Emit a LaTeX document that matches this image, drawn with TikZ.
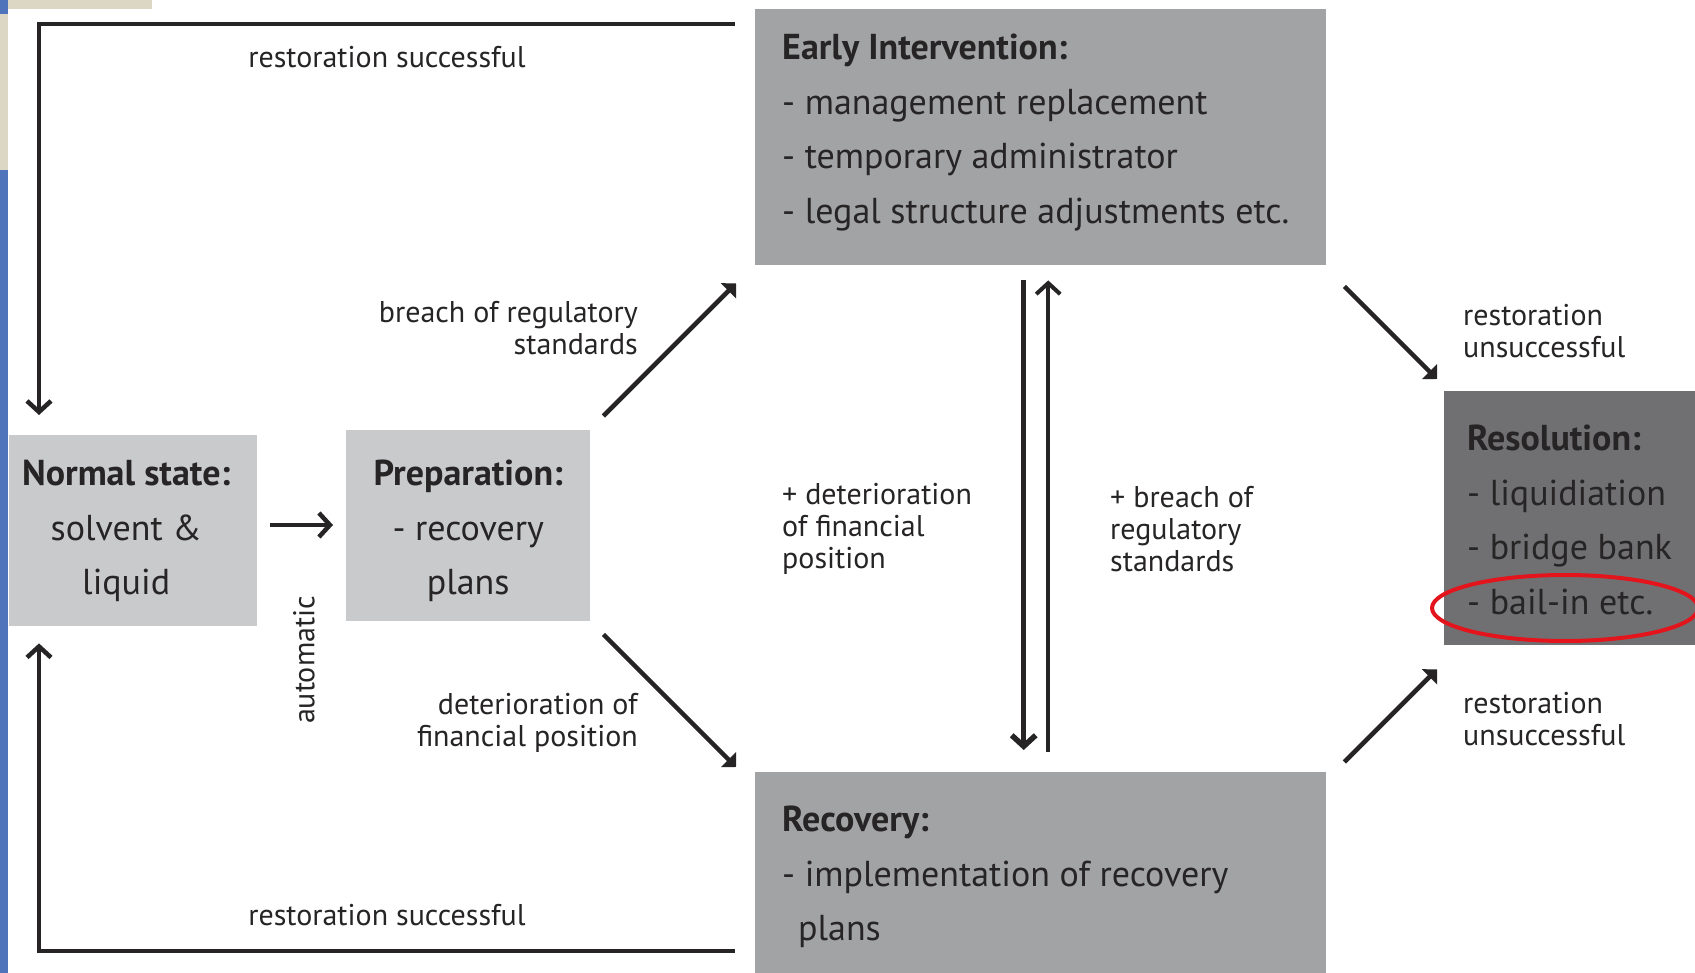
\documentclass[tikz,border=0pt]{standalone}
\usepackage{fontspec}
\setmainfont{PT Sans}
\usetikzlibrary{arrows.meta,calc}
\definecolor{txt}{HTML}{262424}
\definecolor{lightbox}{HTML}{C9CACC}
\definecolor{midbox}{HTML}{A2A3A5}
\definecolor{darkbox}{HTML}{707072}
\definecolor{slideblue}{HTML}{4F74BC}
\definecolor{slidebeige}{HTML}{DCD6C4}
\definecolor{ringred}{HTML}{E3141B}
\tikzset{
  box/.style={rectangle, draw=none, inner sep=0pt, anchor=north west},
  boxtext/.style={text=txt, inner sep=0pt, font=\fontsize{36}{54.5}\selectfont},
  lbl/.style={text=txt, inner sep=0pt, font=\fontsize{30}{32}\selectfont},
  conn/.style={draw=txt, line width=4.5pt},
  barb/.style={conn, -{Straight Barb[length=11pt,width=24pt]}},
  diag/.style={conn, -{Triangle[angle=90:15pt]}},
}
\begin{document}
\begin{tikzpicture}[x=1pt,y=-1pt]
\useasboundingbox (0,0) rectangle (1695,973);
\fill[white] (0,0) rectangle (1695,973);
% slide background remnants
\fill[slideblue] (0,0) rectangle (8,973);
\fill[slidebeige] (8,0) rectangle (152,9);
\fill[slidebeige] (0,14) rectangle (8,170);
% boxes
\node[box, fill=lightbox, minimum width=248pt, minimum height=191pt] (ns) at (9,435) {};
\node[box, fill=lightbox, minimum width=244pt, minimum height=191pt] (prep) at (346,430) {};
\node[box, fill=midbox, minimum width=571pt, minimum height=256pt] (ei) at (755,9) {};
\node[box, fill=midbox, minimum width=571pt, minimum height=201pt] (rec) at (755,772) {};
\node[box, fill=darkbox, minimum width=251pt, minimum height=254pt] (res) at (1444,391) {};
% box texts
\node[boxtext, align=center, anchor=north] (nst) at ([xshift=-7pt,yshift=-25pt]ns.north)
  {\textbf{Normal state:}\\solvent \&\\liquid};
\node[boxtext, align=center, anchor=north] (prept) at ([yshift=-30pt]prep.north)
  {\textbf{Preparation:}\\- recovery\\plans};
\node[boxtext, align=left, anchor=north west] (eit) at ([xshift=27pt,yshift=-25pt]ei.north west)
  {\textbf{Early Intervention:}\\- management replacement\\- temporary administrator\\- legal structure adjustments etc.};
\node[boxtext, align=left, anchor=north west] (rect) at ([xshift=27pt,yshift=-34pt]rec.north west)
  {\textbf{Recovery:}\\- implementation of recovery\\\hspace*{16pt}plans};
\node[boxtext, align=left, anchor=north west] (rest) at ([xshift=23pt,yshift=-34pt]res.north west)
  {\textbf{Resolution:}\\- liquidiation\\- bridge bank\\- bail-in etc.};
% red ring
\draw[ringred, line width=4pt] (1565,608) ellipse [x radius=133, y radius=33];
% coordinates for the outer loops
\coordinate (tl) at (39,24);
\coordinate (bl) at (39,951);
% connectors
\draw[barb] ([xshift=-20pt]ei.west |- tl) -- (tl) -- ([yshift=20pt]tl |- ns.north);
\draw[barb] ([xshift=-20pt]rec.west |- bl) -- (bl) -- ([yshift=-17pt]bl |- ns.south);
\draw[barb] ([xshift=13pt]ns.east |- 0,525) -- ([xshift=-13pt]prep.west |- 0,525);
\draw[diag] ([shift={(13,-14)}]prep.north east) -- ([shift={(-19,18)}]ei.south west);
\draw[diag] ([shift={(13,13)}]prep.south east) -- ([shift={(-19,-5)}]rec.north west);
\draw[diag] ([shift={(18,21)}]ei.south east) -- ([shift={(-7,-12)}]res.north west);
\draw[diag] ([shift={(18,-10)}]rec.north east) -- ([shift={(-7,24)}]res.south west);
\draw[barb, line width=5.5pt] ([shift={(-17,15)}]ei.south) -- ([shift={(-17,-22)}]rec.north);
\draw[barb, line width=4pt] ([shift={(7.5,-20)}]rec.north) -- ([shift={(7.5,15)}]ei.south);
% labels
\node[lbl, anchor=center] (rs1) at (387,57) {restoration successful};
\node[lbl, anchor=center] (rs2) at (387,915) {restoration successful};
\node[lbl, align=right, anchor=east] (brs) at (638,328) {breach of regulatory\\standards};
\node[lbl, align=right, anchor=east] (dfp) at (638,723) {deterioration of\\financial position};
\node[lbl, align=left, anchor=west] (pdf) at (782,529) {+ deterioration\\of financial\\position};
\node[lbl, align=left, anchor=west] (pbr) at (1110,529) {+ breach of\\regulatory\\standards};
\node[lbl, align=left, anchor=west] (ru1) at (1463,331) {restoration\\unsuccessful};
\node[lbl, align=left, anchor=west] (ru2) at (1463,719) {restoration\\unsuccessful};
\node[lbl, rotate=90, anchor=center] (auto) at (304,660) {automatic};
\end{tikzpicture}
\end{document}
